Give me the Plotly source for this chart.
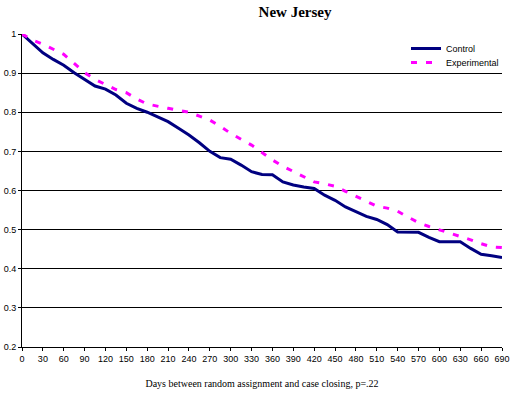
import plotly.graph_objs as go

# days since random assignment (every 15 days)
days = list(range(0, 691, 15))

# proportion of cases still open
control = [1.0, 0.976, 0.952, 0.935, 0.92, 0.901, 0.885, 0.867, 0.859, 0.844,
           0.823, 0.81, 0.80, 0.788, 0.776, 0.759, 0.742, 0.722, 0.70, 0.684,
           0.68, 0.665, 0.648, 0.641, 0.64, 0.622, 0.614, 0.609, 0.605, 0.588,
           0.575, 0.558, 0.545, 0.534, 0.526, 0.513, 0.494, 0.494, 0.493, 0.48,
           0.469, 0.469, 0.469, 0.452, 0.437, 0.433, 0.429]
experimental = [1.0, 0.985, 0.974, 0.96, 0.948, 0.925, 0.901, 0.884, 0.87, 0.858,
                0.85, 0.834, 0.821, 0.815, 0.81, 0.805, 0.80, 0.79, 0.78, 0.764,
                0.746, 0.731, 0.716, 0.697, 0.678, 0.662, 0.648, 0.635, 0.622, 0.617,
                0.611, 0.598, 0.586, 0.573, 0.56, 0.555, 0.547, 0.532, 0.518, 0.508,
                0.50, 0.49, 0.484, 0.474, 0.464, 0.456, 0.454]

x_ticks = list(range(0, 691, 30))
y_ticks = [0.2, 0.3, 0.4, 0.5, 0.6, 0.7, 0.8, 0.9, 1.0]
y_labels = ['0.2', '0.3', '0.4', '0.5', '0.6', '0.7', '0.8', '0.9', '1']

control_line = go.Scatter(
    name='Control',
    x=days,
    y=control,
    mode='lines',
    line={'color': '#000080', 'width': 3},
    legend='legend',
)
experimental_line = go.Scatter(
    name='Experimental',
    x=days,
    y=experimental,
    mode='lines',
    line={'color': '#ff00ff', 'width': 3, 'dash': '6px,9px'},
    legend='legend2',
)

legend_style = {'xanchor': 'left', 'yanchor': 'top', 'bgcolor': 'rgba(0,0,0,0)',
                'font': {'size': 9}, 'itemwidth': 30}

layout = go.Layout(
    title={'text': '<b>New Jersey</b>', 'x': 0.562, 'xanchor': 'center',
           'y': 0.97, 'yanchor': 'middle',
           'font': {'family': 'Liberation Serif', 'size': 15, 'color': 'black'}},
    width=525,
    height=397,
    margin={'l': 22, 'r': 23, 't': 34, 'b': 50, 'autoexpand': False},
    paper_bgcolor='white',
    plot_bgcolor='white',
    font={'family': 'Liberation Sans', 'size': 9, 'color': 'black'},
    xaxis={
        'range': [0, 690],
        'tickvals': x_ticks,
        'ticks': 'outside',
        'ticklen': 3,
        'tickcolor': 'black',
        'showgrid': False,
        'showline': True,
        'linecolor': 'black',
        'linewidth': 1,
        'zeroline': False,
        'automargin': False,
        'title': {'text': 'Days between random assignment and case closing, p=.22',
                  'font': {'family': 'Liberation Serif', 'size': 10},
                  'standoff': 17},
    },
    yaxis={
        'range': [0.2, 1.0],
        'tickvals': y_ticks,
        'ticktext': y_labels,
        'ticks': 'outside',
        'ticklen': 3,
        'tickcolor': 'black',
        'showgrid': True,
        'gridcolor': 'black',
        'gridwidth': 1,
        'showline': True,
        'linecolor': 'black',
        'linewidth': 1,
        'zeroline': False,
        'automargin': False,
    },
    legend=dict(legend_style, x=0.8, y=1.0),
    legend2=dict(legend_style, x=0.8, y=0.955),
    showlegend=True,
)

fig = go.Figure((control_line, experimental_line), layout=layout)
# drop the browser's default 8px body margin so the figure sits at the page corner
fig.write_html('out.html', config={'displayModeBar': False},
               post_script="document.body.style.margin='0';")
